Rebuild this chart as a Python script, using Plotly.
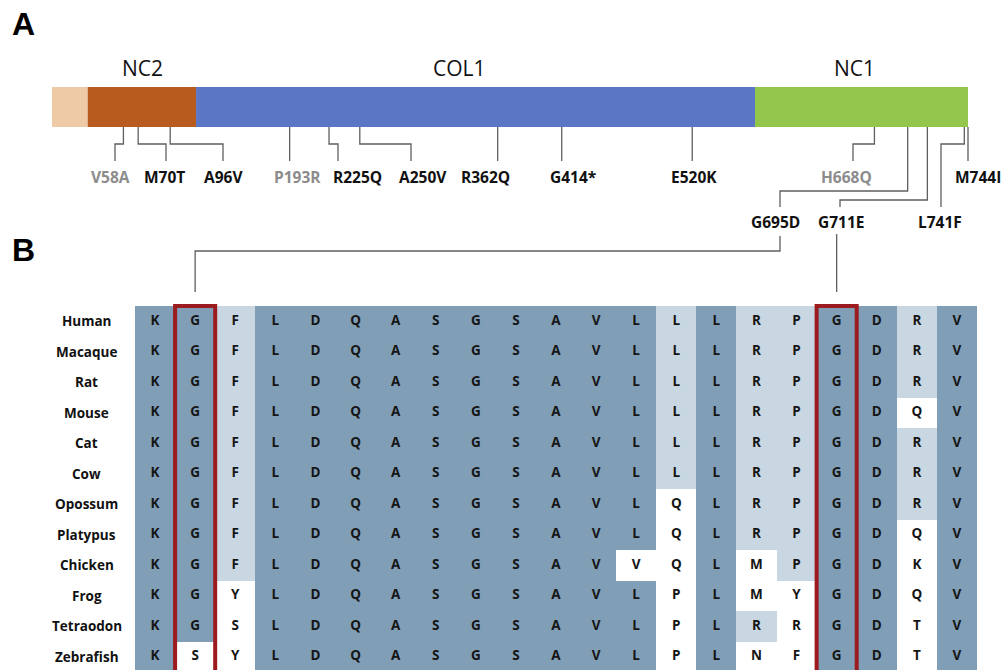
import plotly.graph_objects as go

# ---------------- Panel A: COL8A1 domain map ----------------
domain_names = ["", "NC2", "COL1", "NC1"]
domain_start = [0, 29, 117, 571]
domain_end = [29, 117, 571, 744]
domain_colors = ["#EECBA6", "#B85B1E", "#5B76C4", "#93C64A"]

mut_labels = ["V58A", "M70T", "A96V", "P193R", "R225Q", "A250V", "R362Q",
              "G414*", "E520K", "H668Q", "G695D", "G711E", "L741F", "M744I"]
mut_pos = [58, 70, 96, 193, 225, 250, 362, 414, 520, 668, 695, 711, 741, 744]
mut_muted = [True, False, False, True, False, False, False,
             False, False, True, False, False, False, False]

# ---------------- Panel B: alignment ----------------
species = ["Human", "Macaque", "Rat", "Mouse", "Cat", "Cow", "Opossum",
           "Platypus", "Chicken", "Frog", "Tetraodon", "Zebrafish"]
sequences = [
    "KGFLDQASGSAVLLLRPGDRV",
    "KGFLDQASGSAVLLLRPGDRV",
    "KGFLDQASGSAVLLLRPGDRV",
    "KGFLDQASGSAVLLLRPGDQV",
    "KGFLDQASGSAVLLLRPGDRV",
    "KGFLDQASGSAVLLLRPGDRV",
    "KGFLDQASGSAVLQLRPGDRV",
    "KGFLDQASGSAVLQLRPGDQV",
    "KGFLDQASGSAVVQLMPGDKV",
    "KGYLDQASGSAVLPLMYGDQV",
    "KGSLDQASGSAVLPLRRGDTV",
    "KSYLDQASGSAVLPLNFGDTV",
]
# D = conserved (dark), L = partially conserved (light), W = divergent
shading = [
    "DDLDDDDDDDDDDLDLLDDLD",
    "DDLDDDDDDDDDDLDLLDDLD",
    "DDLDDDDDDDDDDLDLLDDLD",
    "DDLDDDDDDDDDDLDLLDDWD",
    "DDLDDDDDDDDDDLDLLDDLD",
    "DDLDDDDDDDDDDLDLLDDLD",
    "DDLDDDDDDDDDDWDLLDDLD",
    "DDLDDDDDDDDDDWDLLDDWD",
    "DDLDDDDDDDDDWWDWLDDWD",
    "DDWDDDDDDDDDDWDWWDDWD",
    "DDWDDDDDDDDDDWDLWDDWD",
    "DWWDDDDDDDDDDWDWWDDWD",
]
highlight_cols = [1, 17]  # G695 and G711

# ---------------- geometry ----------------
W, H = 1005, 670
BAR_X0, BAR_X1 = 52, 968          # pixel extent of residues 0..744
PROT_LEN = 744
S = (BAR_X1 - BAR_X0) / PROT_LEN  # px per residue
BAR_Y, BAR_H = 107, 40

GRID_X0, GRID_X1 = 135, 977
GRID_TOP = 306
ROW_H = 30.5
N_COLS = len(sequences[0])
COL_W = (GRID_X1 - GRID_X0) / N_COLS
Y2_TOP_PX = 302


def px_to_res(px):
    return (px - BAR_X0) / S


def col_center_px(c):
    return GRID_X0 + (c + 0.5) * COL_W


LINE_C = "#5F5F5F"
FONT = "Open Sans"

fig = go.Figure()

# domain bar
fig.add_trace(go.Bar(
    orientation="h",
    base=domain_start,
    x=[e - s for s, e in zip(domain_start, domain_end)],
    y=[BAR_Y] * len(domain_start),
    width=BAR_H,
    marker=dict(color=domain_colors, line=dict(width=0)),
    xaxis="x", yaxis="y", showlegend=False, hoverinfo="skip",
))

# domain titles
title_px = [None, 142, 459, 854]
for name, tx in zip(domain_names, title_px):
    if name:
        fig.add_annotation(x=px_to_res(tx), y=68, xref="x", yref="y", text=name,
                           showarrow=False, xanchor="center", yanchor="middle",
                           font=dict(family=FONT, size=21, color="#111"))

# mutation label layout: (label centre px, label row y, drop px or None, elbow y)
ROW1_Y, ROW2_Y = 177, 222
mut_layout = {
    "V58A": (110, ROW1_Y, 115, 144),
    "M70T": (164, ROW1_Y, 166, 144),
    "A96V": (223, ROW1_Y, 223, 144),
    "P193R": (297, ROW1_Y, None, None),
    "R225Q": (357, ROW1_Y, 338, 144),
    "A250V": (423, ROW1_Y, 411, 144),
    "R362Q": (485, ROW1_Y, None, None),
    "G414*": (573, ROW1_Y, None, None),
    "E520K": (694, ROW1_Y, None, None),
    "H668Q": (846, ROW1_Y, 853, 144),
    "G695D": (775, ROW2_Y, 780, 191),
    "G711E": (841, ROW2_Y, 840, 200),
    "L741F": (940, ROW2_Y, 941, 144),
    "M744I": (978, ROW1_Y, None, None),
}

bar_bottom = BAR_Y + BAR_H / 2
for lab, pos, muted in zip(mut_labels, mut_pos, mut_muted):
    lx, ly, drop, elbow = mut_layout[lab]
    end_y = ly - 16 if ly == ROW1_Y else ly - 15
    if drop is None:
        xs = [pos, pos]
        ys = [bar_bottom, end_y]
    else:
        d = px_to_res(drop)
        xs = [pos, pos, d, d]
        ys = [bar_bottom, elbow, elbow, end_y]
    fig.add_trace(go.Scatter(x=xs, y=ys, mode="lines", xaxis="x", yaxis="y",
                             line=dict(color=LINE_C, width=1.3),
                             showlegend=False, hoverinfo="skip"))
    fig.add_annotation(x=px_to_res(lx), y=ly, xref="x", yref="y", text=lab,
                       showarrow=False, xanchor="center", yanchor="middle",
                       font=dict(family=FONT, size=15.5, weight="bold",
                                 color="#8C8C8C" if muted else "#111111"))

# connectors from G695D / G711E down to the alignment columns
c1 = px_to_res(col_center_px(highlight_cols[0]))
c17 = px_to_res(col_center_px(highlight_cols[1]))
fig.add_trace(go.Scatter(
    x=[px_to_res(780), px_to_res(780), c1, c1],
    y=[236, 251, 251, 292], mode="lines", xaxis="x", yaxis="y",
    line=dict(color=LINE_C, width=1.3), showlegend=False, hoverinfo="skip"))
fig.add_trace(go.Scatter(
    x=[c17, c17], y=[234, 292], mode="lines", xaxis="x", yaxis="y",
    line=dict(color=LINE_C, width=1.3), showlegend=False, hoverinfo="skip"))

# alignment heatmap
code = {"W": 0, "L": 1, "D": 2}
z = [[code[ch] for ch in row] for row in shading]
fig.add_trace(go.Heatmap(
    z=z, x=list(range(N_COLS)), y=list(range(len(species))),
    zmin=0, zmax=2, showscale=False, xgap=0, ygap=0,
    colorscale=[[0, "#FFFFFF"], [0.25, "#FFFFFF"], [0.25, "#C9D7E2"],
                [0.75, "#C9D7E2"], [0.75, "#809EB6"], [1, "#809EB6"]],
    xaxis="x2", yaxis="y2", hoverinfo="skip",
))

# residue letters
lx_, ly_, lt_ = [], [], []
for r, seq in enumerate(sequences):
    for c, ch in enumerate(seq):
        lx_.append(c)
        ly_.append(r)
        lt_.append(ch)
fig.add_trace(go.Scatter(
    x=lx_, y=ly_, text=lt_, mode="text", xaxis="x2", yaxis="y2",
    textfont=dict(family=FONT, size=13.5, weight="bold", color="#151515"),
    showlegend=False, hoverinfo="skip",
))

# species names
for r, sp in enumerate(species):
    fig.add_annotation(x=86.5 / W, y=r, xref="paper", yref="y2", text=sp,
                       showarrow=False, xanchor="center", yanchor="middle",
                       font=dict(family=FONT, size=13.5, weight="bold", color="#111111"))

# red boxes around the mutated glycines
for c in highlight_cols:
    fig.add_shape(type="rect", xref="x2", yref="y2",
                  x0=c - 0.5, x1=c + 0.5, y0=-0.5, y1=len(species) + 1,
                  line=dict(color="#9B1B1E", width=4), fillcolor="rgba(0,0,0,0)",
                  layer="above")

# panel letters
for letter, cy in [("A", 24), ("B", 250)]:
    fig.add_annotation(x=23 / W, y=1 - cy / H, xref="paper", yref="paper", text=letter,
                       showarrow=False, xanchor="center", yanchor="middle",
                       font=dict(family="Liberation Sans", size=32, weight="bold",
                                 color="#000"))

y2_span_rows = (H - Y2_TOP_PX) / ROW_H
y2_top = -0.5 - (GRID_TOP - Y2_TOP_PX) / ROW_H

fig.update_layout(
    width=W, height=H, margin=dict(l=0, r=0, t=0, b=0),
    paper_bgcolor="white", plot_bgcolor="rgba(0,0,0,0)",
    barmode="overlay",
    xaxis=dict(range=[px_to_res(0), px_to_res(W)], domain=[0, 1], visible=False,
               fixedrange=True),
    yaxis=dict(range=[H, 0], domain=[0, 1], visible=False, fixedrange=True),
    xaxis2=dict(range=[-0.5, N_COLS - 0.5], domain=[GRID_X0 / W, GRID_X1 / W],
                anchor="y2", visible=False, fixedrange=True),
    yaxis2=dict(range=[y2_top + y2_span_rows, y2_top], domain=[0, (H - Y2_TOP_PX) / H],
                anchor="x2", visible=False, fixedrange=True),
)

fig.write_html("out.html")
